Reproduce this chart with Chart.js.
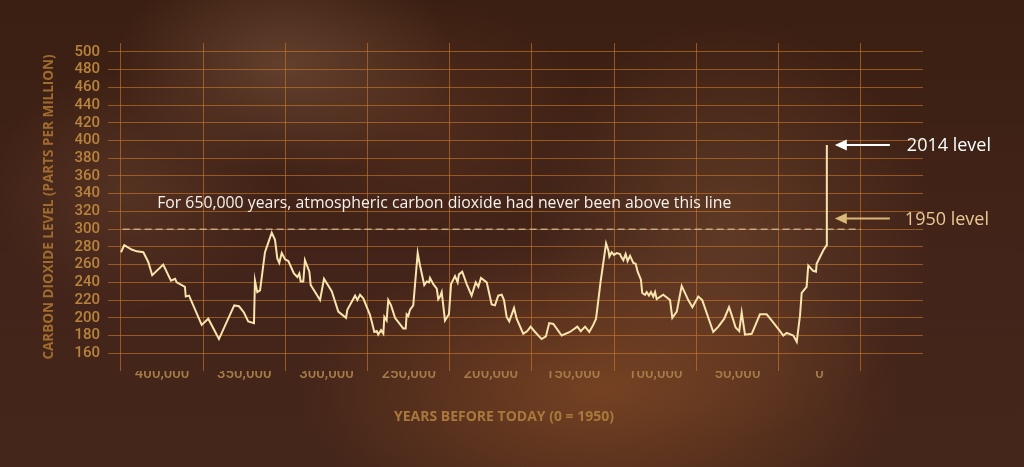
<!DOCTYPE html>
<html>
<head>
<meta charset="utf-8">
<script src="https://cdn.jsdelivr.net/npm/chart.js@4.4.1/dist/chart.umd.min.js"></script>
<style>
  html, body { margin: 0; padding: 0; width: 1024px; height: 467px; overflow: hidden; background: #3e2113; }
  #wrap {
    width: 1024px; height: 467px; position: relative;
    background:
      radial-gradient(ellipse 170px 110px at 285px 65px, rgba(125,85,62,0.60), rgba(125,85,62,0) 100%),
      radial-gradient(ellipse 140px 120px at 130px 190px, rgba(110,70,48,0.45), rgba(110,70,48,0) 100%),
      radial-gradient(ellipse 300px 150px at 600px 390px, rgba(150,85,40,0.60), rgba(150,85,40,0) 100%),
      radial-gradient(ellipse 200px 210px at 730px 230px, rgba(125,80,50,0.50), rgba(125,80,50,0) 100%),
      radial-gradient(ellipse 160px 120px at 430px 120px, rgba(105,60,38,0.40), rgba(105,60,38,0) 100%),
      linear-gradient(180deg, #3b1f12 0%, #43241a 60%, #45261a 100%);
  }
  canvas { display: block; }
</style>
</head>
<body>
<div id="wrap"><canvas id="c" width="1024" height="467"></canvas></div>
<script>
// ---- data ----
const yearsBeforeToday = [
  425000, 423000, 418500, 415400, 411400, 408400, 406000, 399300, 394600, 392100,
  391100, 386100, 385600, 383600, 375900, 371900, 365400, 356100, 353200, 350200,
  347600, 344100, 343500, 342100, 340400, 337400, 333300, 331300, 329900, 328700,
  327200, 325200, 323200, 319800, 317700, 316500, 315700, 314100, 313100, 310400,
  309600, 303900, 301500, 296800, 292800, 288100, 287300, 282600, 281200, 279600,
  277600, 273500, 272500, 270900, 269400, 268500, 266800, 265400, 264800, 263400,
  262400, 260700, 258300, 253300, 251800, 251200, 250200, 249200, 247200, 244500,
  243100, 240500, 239000, 237600, 237000, 235000, 232900, 232000, 230900, 229900,
  227900, 225500, 224200, 221800, 220200, 219400, 217400, 214700, 211700, 209200,
  207600, 206000, 202500, 199500, 197500, 195500, 193400, 192000, 190400, 188800,
  185900, 184300, 180300, 177800, 175800, 173100, 169100, 166500, 164500, 162000,
  156900, 151900, 147400, 145300, 142700, 140100, 137700, 136000, 133200, 129900,
  128500, 127900, 126500, 125100, 123400, 121400, 120800, 119400, 118000, 116800,
  115300, 113300, 111900, 110700, 108700, 107900, 106200, 105200, 103800, 102600,
  101200, 100100, 99100, 95100, 91000, 89600, 86900, 83900, 79900, 77400,
  73800, 71400, 64700, 61600, 58000, 55100, 53100, 51100, 48900, 47400,
  45400, 41300, 36300, 32200, 29200, 24100, 22100, 20000, 16000, 13900,
  11900, 10900, 7900, 6900, 3900, 2200, 1800, -2200, -4300, -4400
];
const co2ppm = [
  274, 282, 277, 275, 274, 263, 248, 260, 242, 244,
  240, 235, 224, 225, 192, 199, 176, 214, 213, 206,
  196, 194, 242, 229, 231, 274, 296, 288, 267, 262,
  273, 266, 264, 250, 246, 250, 241, 241, 265, 252,
  237, 220, 244, 230, 207, 200, 209, 225, 220, 226,
  222, 203, 196, 184, 185, 181, 186, 182, 201, 197,
  220, 214, 200, 188, 188, 204, 202, 209, 214, 273,
  259, 237, 241, 240, 245, 238, 233, 221, 224, 229,
  197, 204, 238, 247, 240, 249, 252, 238, 225, 240,
  235, 245, 240, 215, 214, 225, 226, 220, 201, 196,
  211, 199, 182, 185, 190, 184, 176, 179, 194, 193,
  180, 184, 190, 185, 190, 184, 192, 199, 241, 284,
  276, 269, 274, 271, 273, 272, 269, 265, 272, 264,
  270, 262, 261, 252, 243, 228, 226, 229, 225, 229,
  224, 229, 221, 226, 220, 200, 207, 236, 220, 212,
  224, 220, 184, 190, 199, 212, 201, 189, 185, 206,
  181, 182, 204, 204, 197, 185, 180, 183, 180, 173,
  203, 228, 235, 259, 253, 252, 261, 276, 282, 395
];
const xTickValues = [0, 50000, 100000, 150000, 200000, 250000, 300000, 350000, 400000];
const xTickLabels = ['0', '50,000', '100,000', '150,000', '200,000', '250,000', '300,000', '350,000', '400,000'];
const yTickValues = [160, 180, 200, 220, 240, 260, 280, 300, 320, 340, 360, 380, 400, 420, 440, 460, 480, 500];
const thresholdPpm = 300;
const thresholdSpan = [424000, -25000];
const level1950 = 312;
const level2014 = 395;
const levelYear = -4400;
const statementText = 'For 650,000 years, atmospheric carbon dioxide had never been above this line';
const yTitle = 'CARBON DIOXIDE LEVEL (PARTS PER MILLION)';
const xTitle = 'YEARS BEFORE TODAY (0 = 1950)';

const TICKFONT = "Roboto, 'Liberation Sans', sans-serif";
const SANS = "'Open Sans', 'Noto Sans', sans-serif";
const GRID = 'rgba(200,118,40,0.64)';

function arrow(ctx, x1, x2, y, color) {
  ctx.save();
  ctx.strokeStyle = color; ctx.fillStyle = color; ctx.lineWidth = 2;
  ctx.beginPath(); ctx.moveTo(x2, y); ctx.lineTo(x1 + 8, y); ctx.stroke();
  ctx.beginPath(); ctx.moveTo(x1, y); ctx.lineTo(x1 + 12, y - 5.5); ctx.lineTo(x1 + 12, y + 5.5); ctx.closePath(); ctx.fill();
  ctx.restore();
}

const annotations = {
  id: 'annotations',
  afterDatasetsDraw(chart) {
    const {ctx, chartArea, scales: {x, y}} = chart;
    ctx.save();
    ctx.font = `15.8px ${SANS}`;
    ctx.fillStyle = '#f7f2ec';
    ctx.textBaseline = 'middle';
    ctx.textAlign = 'left';
    ctx.fillText(statementText, x.getPixelForValue(403000), y.getPixelForValue(329.5));
    const sx = x.getPixelForValue(levelYear);
    const y14 = y.getPixelForValue(level2014);
    const y50 = y.getPixelForValue(level1950);
    arrow(ctx, sx + 8, sx + 63, y14, '#ffffff');
    arrow(ctx, sx + 8, sx + 63, y50, '#dcb878');
    ctx.font = `18px ${SANS}`;
    ctx.fillStyle = '#ffffff';
    ctx.fillText('2014 level', sx + 80, y14 + 1);
    ctx.fillStyle = '#ecc993';
    ctx.fillText('1950 level', sx + 78, y50 + 1);
    ctx.font = `bold 14px ${SANS}`;
    ctx.fillStyle = '#a9783c';
    ctx.textAlign = 'center';
    ctx.fillText(xTitle, (chartArea.left + chartArea.right) / 2 - 11.5, chartArea.bottom + 46);
    ctx.restore();
  }
};

new Chart(document.getElementById('c'), {
  type: 'line',
  data: {
    datasets: [
      {
        data: yearsBeforeToday.map((v, i) => ({x: v, y: co2ppm[i]})),
        borderColor: '#f8e4ad',
        borderWidth: 2,
        pointRadius: 0,
        tension: 0,
        fill: false
      },
      {
        data: thresholdSpan.map(v => ({x: v, y: thresholdPpm})),
        borderColor: 'rgba(215,195,165,0.75)',
        borderWidth: 1.5,
        borderDash: [7, 4],
        pointRadius: 0,
        fill: false
      }
    ]
  },
  options: {
    responsive: false,
    animation: false,
    events: [],
    layout: {padding: {top: 43, right: 101, left: 0, bottom: 0}},
    plugins: {legend: {display: false}, tooltip: {enabled: false}, title: {display: false}},
    scales: {
      x: {
        type: 'linear',
        reverse: true,
        min: -62900,
        max: 432900,
        afterBuildTicks: s => { s.ticks = xTickValues.map(v => ({value: v})); },
        afterFit: s => { s.height = 96; },
        grid: {offset: true, color: GRID, lineWidth: 1, drawTicks: false},
        border: {display: false},
        ticks: {
          padding: -6,
          maxRotation: 0,
          autoSkip: false,
          color: '#a67c48',
          font: {family: TICKFONT, size: 15, weight: '500'},
          callback: v => xTickLabels[xTickValues.indexOf(v)]
        }
      },
      y: {
        min: 140,
        max: 510,
        afterBuildTicks: s => { s.ticks = yTickValues.map(v => ({value: v})); },
        afterFit: s => { s.width = 108; },
        grid: {color: GRID, lineWidth: 1, drawTicks: false},
        border: {display: false},
        ticks: {
          padding: 8,
          autoSkip: false,
          color: '#b8843d',
          font: {family: TICKFONT, size: 15, weight: '500'},
          callback: v => String(v)
        },
        title: {
          display: true,
          text: yTitle,
          color: '#9f6b2f',
          font: {family: SANS, size: 13.5, weight: 'bold'},
          padding: {top: 41, bottom: 0}
        }
      }
    }
  },
  plugins: [annotations]
});
</script>
</body>
</html>
